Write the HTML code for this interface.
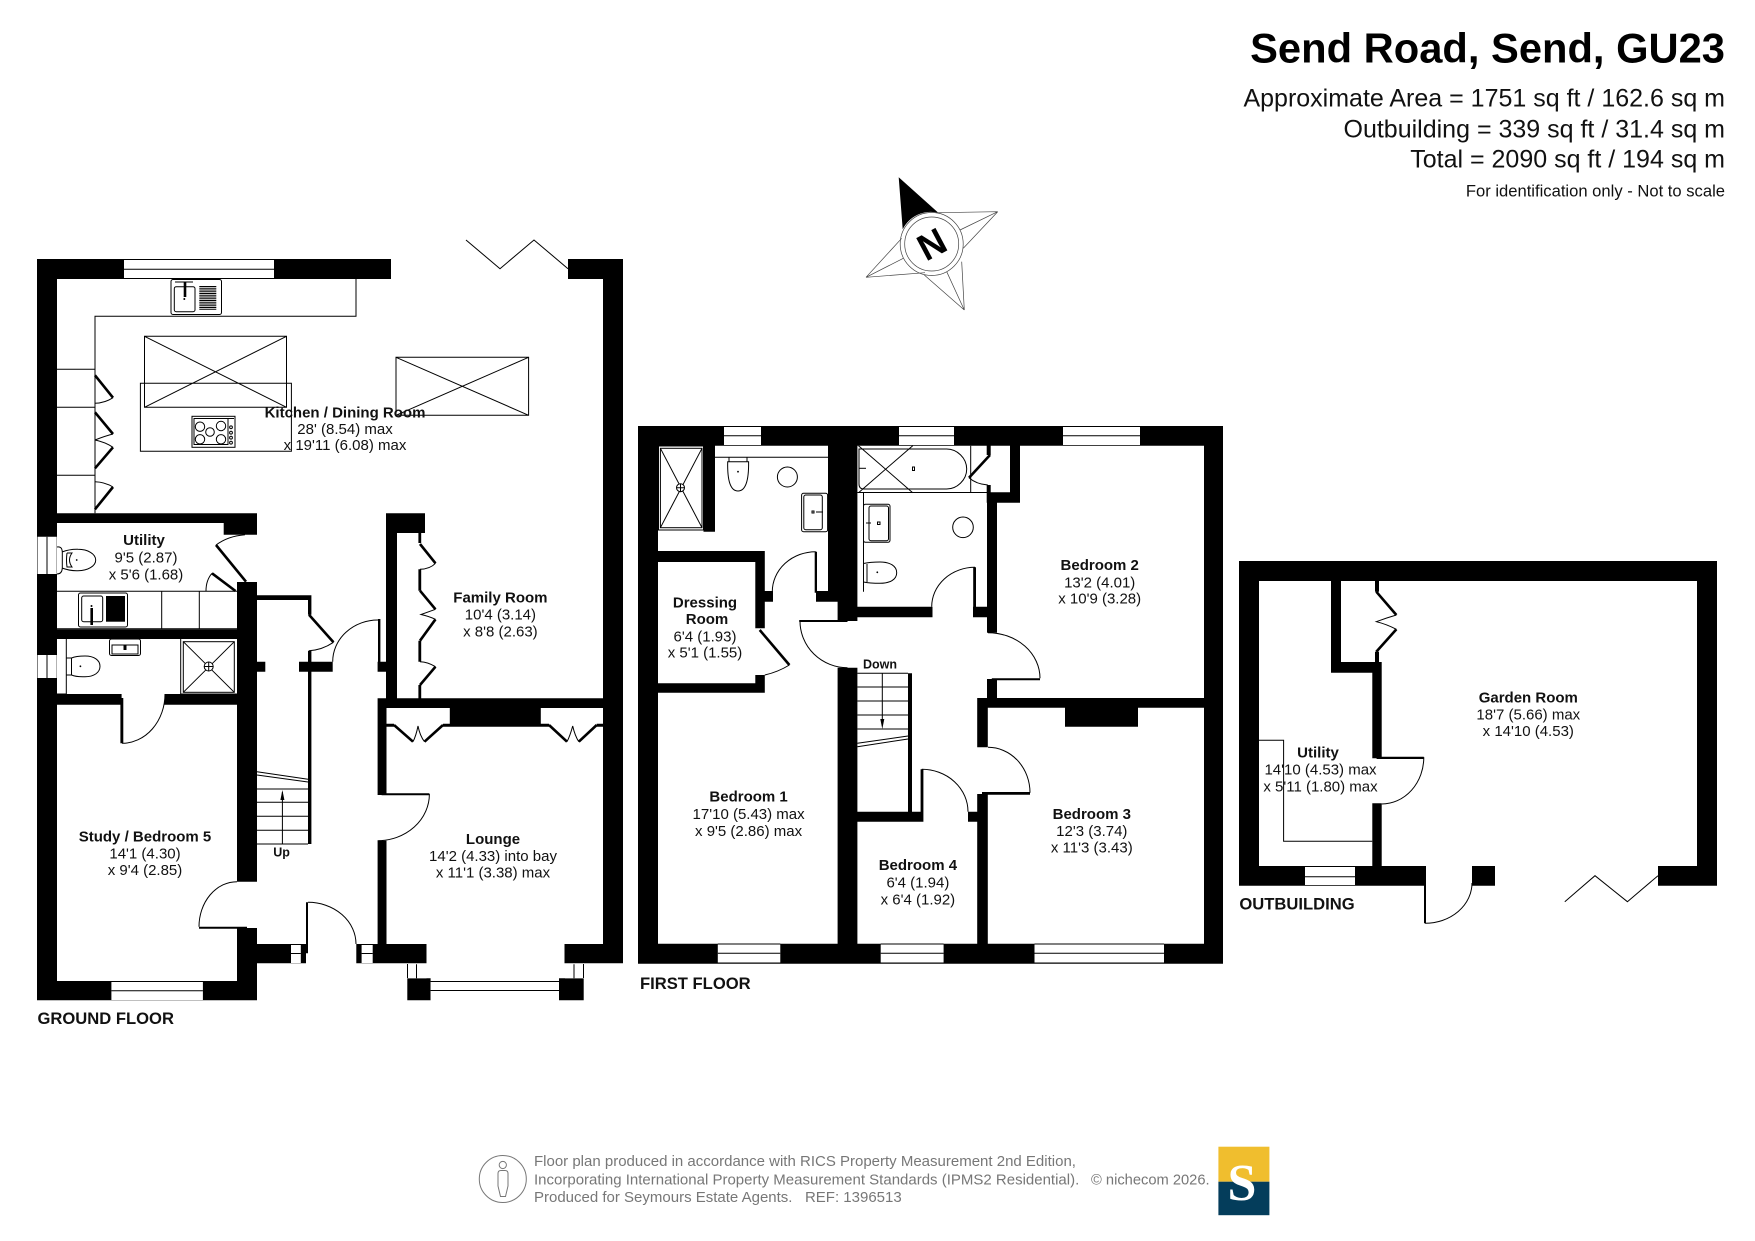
<!DOCTYPE html>
<html><head><meta charset="utf-8"><title>Send Road, Send, GU23</title>
<style>html,body{margin:0;padding:0;background:#fff}svg{display:block}text{font-family:"Liberation Sans",sans-serif;fill:#111;white-space:pre}.b{font-weight:700;font-size:15px;text-anchor:middle}.r{font-size:15px;text-anchor:middle}.f{font-weight:700;font-size:16.6px}.g{font-size:15px;fill:#777}.t{stroke:#000;stroke-width:1;fill:none}.h{stroke:#000;stroke-width:2.6;fill:none}.w{fill:#fff;stroke:#000;stroke-width:1}.p{fill:#fff;stroke:none}</style></head>
<body>
<svg width="1755" height="1241" viewBox="0 0 1755 1241" xmlns="http://www.w3.org/2000/svg">
<rect width="1755" height="1241" fill="#fff"/>
<!-- header -->
<text x="1725" y="62.3" style="font-weight:700;font-size:41.7px;text-anchor:end;fill:#000">Send Road, Send, GU23</text>
<g style="font-size:25px;text-anchor:end"><text x="1725" y="106.7">Approximate Area = 1751 sq ft / 162.6 sq m</text><text x="1725" y="137.3">Outbuilding = 339 sq ft / 31.4 sq m</text><text x="1725" y="167.7">Total = 2090 sq ft / 194 sq m</text></g>
<text x="1725" y="196.7" style="font-size:16.6px;text-anchor:end">For identification only - Not to scale</text>
<!-- compass -->
<g stroke="#444" stroke-width=".7" fill="none"><path d="M997.7 211.7L938 212.7M997.7 211.7L960 230M997.7 211.7L963.3 248.3M964.3 310L961.7 261.7M964.3 310L946.7 271.7M964.3 310L924.3 275M866 277.3L901.7 238.3M866 277.3L903.3 258.3M866 277.3L925 272.7"/><circle cx="931.7" cy="244" r="31.5"/><circle cx="931.7" cy="244" r="27"/></g>
<path d="M898.7 177.3L938.3 212.7A31.5 31.5 0 0 0 902.7 229.3Z" fill="#000"/>
<text x="0" y="0" transform="translate(931.7 244) rotate(-28)" dy="13" style="font-weight:700;font-size:37px;text-anchor:middle;fill:#000">N</text>
<!-- walls -->
<g fill="#000">
<path d="M37 259H391V279H37ZM568 259H623V279H568ZM37 259H57V1000.3H37ZM603 259H623V963.3H603ZM37 513.3H224V523H37ZM223.7 513.3H257V534.7H223.7ZM237 582H257V881.7H237ZM57 629.3H237V639H57ZM57 694H121.6V704.7H57ZM164.5 694H237V704.7H164.5ZM120.4 698H123.3V743.3H120.4ZM257 595.3H311.4V600H257ZM308 595.3H311.4V614.7H308ZM308 650.7H311.4V844H308ZM257 661.7H265.3V671.7H257ZM299 661.7H332.7V671.7H299ZM37 981H257V1000.3H37ZM199 926.7H247V928.7H199ZM237 928H257V1000.3H237ZM257 944H306V963.3H257ZM306 902.3H308V953.3H306ZM356.3 944H426.5V963.3H356.3ZM564.5 944H623V963.3H564.5ZM377.6 698.3H386.5V795H377.6ZM377.6 840.7H386.5V944H377.6ZM381.6 793.3H429.4V795.3H381.6ZM378 619H380.4V661.7H378ZM377.6 661.7H386V671.7H377.6ZM386 513.3H397V698.3H386ZM386 513.3H425V533H386ZM377.6 698.3H623V708H377.6ZM449.8 708H540.8V726.7H449.8ZM386.5 723.7H394V726.7H386.5ZM443 723.7H450V726.7H443ZM540.8 723.7H549V726.7H540.8ZM596.7 723.7H603V726.7H596.7ZM418.4 533H421.2V543H418.4ZM418.4 569.3H421.2V590.7H418.4ZM418.4 640.7H421.2V661.7H418.4ZM418.4 685H421.2V698.3H418.4ZM407.3 978.3H430.6V1000.3H407.3ZM559 978.3H583.7V1000.3H559Z"/>
<path d="M638 426H1223V445.7H638ZM638 426H658V963.7H638ZM1204 426H1223V963.7H1204ZM638 943.7H1223V963.7H638ZM703.5 445.7H715V531.7H703.5ZM828 445.7H857.4V591.7H828ZM837.6 591H857.4V621H837.6ZM837.6 667.7H857.4V943.7H837.6ZM857.4 606.7H932.5V617.3H857.4ZM658 551H764.8V562H658ZM755.3 551H764.8V628.3H755.3ZM764.8 591H773V601.7H764.8ZM755.3 675H764.8V692.7H755.3ZM658 683.3H764.8V692.7H658ZM814.7 551.7H817V592.7H814.7ZM816 591H837.6V601.7H816ZM799.2 620H847.5V622H799.2ZM986.7 445.7H990.7V455H986.7ZM986.7 485H990.7V492.3H986.7ZM1010 445.7H1020V502.7H1010ZM986.7 492.3H1020V502.7H986.7ZM987 492.3H997V632.7H987ZM973.2 567.3H976V608H973.2ZM973 606.7H987V617.3H973ZM987 679H997V698.3H987ZM991.8 678.3H1040V680.3H991.8ZM977.2 698H1223V707.7H977.2ZM1065 707.7H1138V726.7H1065ZM977.2 698H987.8V747.3H977.2ZM982 792H1030V794.7H982ZM977.2 794H987.8V963.7H977.2ZM908 673.3H912V811.7H908ZM857 811.7H921.8V821.7H857ZM920.6 769.3H923.4V821.7H920.6ZM968 811.7H977.2V821.7H968Z"/>
<path d="M1239 561H1717V581H1239ZM1239 561H1259V885.7H1239ZM1697 561H1717V885.7H1697ZM1239 866H1426V885.7H1239ZM1472 866H1495V885.7H1472ZM1658 866H1717V885.7H1658ZM1331 581H1341V672.7H1331ZM1331 662H1381.7V672.7H1331ZM1372.3 662H1381.7V758.3H1372.3ZM1376.6 756.7H1423.8V759H1376.6ZM1372.3 803.3H1381.7V866H1372.3ZM1424 885H1426V923.3H1424ZM1375 581H1379V591.7H1375ZM1375 651.7H1379V662H1375Z"/>
</g>
<!-- windows: ground -->
<g><path class="p" d="M124 260h150v18h-150zM37.5 536.7h19.2v37.3h-19.2zM37.5 655h19.2v23h-19.2zM111.4 982h91.5v18h-91.5zM430.6 982h128.4v18h-128.4zM291 945h9.8v18h-9.8zM361.6 945h11.1v18h-11.1zM408 964.3h18.5v14h-18.5zM565 964.3h18.7v14h-18.7z"/>
<path class="t" d="M124 269.3h150M47 536.7v37.3M47 655v23M111.4 990.7h91.5M111.4 981.5h91.5M430.6 990.5h128.4M430.6 981.5h128.4M291 953.5h9.8M361.6 953.5h11.1M416.5 964.3v14M574 964.3v14M407.5 964v14M583.5 964v14"/>
<!-- windows: first -->
<path class="p" d="M724 427h37v18h-37zM899 427h55v18h-55zM1063 427h77v18h-77zM717.8 944.5h62.5v18h-62.5zM880.7 944.5h62.9v18h-62.9zM1034.5 944.5h129.5v18h-129.5zM1305 867h50v18h-50z"/>
<path class="t" d="M724 435.7h37M899 435.7h55M1063 435.7h77M717.8 953.3h62.5M880.7 953.3h62.9M1034.5 953.3h129.5M1305 876.7h50M717.8 944h62.5M880.7 944h62.9M1034.5 944h129.5"/></g>
<!-- ground fittings -->
<path class="t" d="M356 279V316.3H95V513.3M57 369.3H95M57 407.3H95M57 475.3H95M466 240L500 268.7L534 240L568 268.7"/>
<path class="t" d="M144.5 336.3H286.5V407.3H144.5ZM144.5 336.3L286.5 407.3M286.5 336.3L144.5 407.3M396 357.3H528.6V415.3H396ZM396 357.3L528.6 415.3M528.6 357.3L396 415.3M140.4 383.3H291.4V451.3H140.4Z"/>
<!-- sink & hob -->
<rect class="t" x="171" y="279.5" width="50.5" height="35" rx="2"/><rect class="t" x="174.3" y="286.7" width="20.7" height="25" rx="2"/>
<path class="h" d="M185 282V297" stroke-width="2"/><circle cx="184.3" cy="299" r="1"/>
<path class="t" d="M199.3 286.5h17M199.3 288.3h17M199.3 290h17M199.3 291.8h17M199.3 293.5h17M199.3 295.3h17M199.3 297h17M199.3 298.8h17M199.3 300.5h17M199.3 302.3h17M199.3 304h17M199.3 305.8h17M199.3 307.5h17M199.3 309.3h17M175 282h18"/>
<rect x="192" y="416.3" width="43" height="31" fill="#fff" stroke="#000"/><path class="t" d="M194 444.5H228V418.5H194ZM228 418.5h6"/>
<g class="t"><circle cx="200" cy="426.7" r="4.7"/><circle cx="221" cy="426" r="4.7"/><circle cx="210" cy="432" r="4.3"/><circle cx="200" cy="439.3" r="4.7"/><circle cx="221" cy="439.3" r="4.7"/><circle cx="231" cy="427.3" r="1.4"/><circle cx="231" cy="432.7" r="1.4"/><circle cx="231" cy="437.7" r="1.4"/><circle cx="231" cy="442.7" r="1.4"/></g>
<!-- kitchen cupboards -->
<path class="h" d="M95 375.3L113 397.7M95 412.3L113 434M113 447.3L95 468.3M113 487L95 509.3"/>
<path class="t" d="M95 403.3Q105 403 113 397.7M95 440Q105 436 113 434M95 440Q105 442 113 447.3M95 481.7Q105 482 113 487"/>
<!-- utility / wc -->
<path class="t" d="M57 591.3H237M57 628.7H237M161.7 591.3V628.7M199.3 591.3V628.7"/>
<rect class="t" x="78.5" y="593" width="49" height="34" rx="2"/><rect class="t" x="81.7" y="596" width="21" height="25.7" rx="2"/><rect x="106" y="596" width="19" height="25.7" fill="#000"/><path class="h" d="M91.7 608V625" stroke-width="2"/><circle cx="91.5" cy="606" r="1"/>
<path class="h" d="M216 545L246 581.7M212 573.3L235.5 591"/><path class="t" d="M216 545Q228 536 245 534.7M206 591Q206 580 212 573.3"/>
<path class="t" d="M57 547Q62 546 62.3 552V568Q62 574 57 574M62 552Q70 549 78 549.3C88 549.3 95.7 554 95.7 560S88 570.7 78 570.7Q70 571 62 568M67 553H72Q67 560 72 567H67Q66 560 67 553"/><circle cx="76.7" cy="560" r=".9"/>
<path class="t" d="M66.3 639V694M180.7 639V694M57 694H66M180.7 694H237"/>
<rect class="t" x="183.3" y="641.7" width="51" height="50.6"/><path class="t" d="M183.3 641.7L234.3 692.3M234.3 641.7L183.3 692.3"/><circle class="w" cx="208.7" cy="666.5" r="4.5"/><path class="t" d="M204.2 666.5h9M208.7 662v9"/>
<rect class="t" x="109.5" y="639" width="31" height="16.5" rx="2"/><path class="t" d="M112 645h26v9h-26z"/><rect x="123.5" y="645" width="3" height="5" fill="#000"/>
<path class="t" d="M71.5 658Q76 656 85 656C94 656 100 660 100 666.3S94 676.7 85 676.7Q76 677 71.5 675V658M66.3 658H71.5M66.3 675H71.5"/><circle cx="80.4" cy="666.3" r=".9"/>
<path class="h" d="M309 614.7L333.5 642.3"/><path class="t" d="M333.5 642.3Q322 650 309 650.7"/>
<!-- stairs ground -->
<path class="t" d="M257 771.7L308 779.3M257 775L308 782M257 789H308M257 802.3H308M257 816.3H308M257 830.3H308M257 844H308M282.4 844V792"/><path d="M282.4 790L280.4 800H284.4Z" fill="#000"/>
<!-- family bifold -->
<path class="h" d="M420 544L435.5 563.3M420 590.7L435.5 609.3M435.5 619.3L420 640.7M435.5 666.7L420 685"/>
<path class="t" d="M435.5 563.3Q430 569 420 569.3M435.5 609.3Q428 612 421 614.5Q428 616 435.5 619.3M435.5 666.7Q428 662 420 661.7"/>
<!-- lounge bifolds -->
<path class="h" d="M394 725L413 741.7M424.5 741.7L443 725M549 725L567 741.7M578.8 741.7L596.7 725"/>
<path class="t" d="M413 741.7Q416 736 418 726Q420 736 424.5 741.7M567 741.7Q570 736 572.7 726Q575 736 578.8 741.7"/>
<!-- door arcs -->
<path class="t" d="M122 743.3A43 49.3 0 0 0 165 694M237 881.7A38 45 0 0 0 199 926.7M308 902.3A48 41.7 0 0 1 356 944M429.4 794A51.8 46.7 0 0 1 377.6 840.7M378 620A45.3 41.7 0 0 0 332.7 661.7"/>
<!-- first floor fittings -->
<rect class="t" x="658.5" y="446" width="45" height="84"/><rect class="t" x="660.4" y="448.3" width="41.6" height="79.4"/><path class="t" d="M660.4 448.3L702 527.7M702 448.3L660.4 527.7M715 457.3H828"/><circle class="w" cx="680.5" cy="487.7" r="4"/><path class="t" d="M676.5 487.7h8M680.5 483.7v8"/>
<path class="t" d="M727.7 461.7H748.6Q749 491 738 491Q727 491 727.7 461.7ZM729 457.3V461.7M747 457.3V461.7"/><circle cx="738" cy="471.7" r=".9"/>
<circle class="t" cx="787.4" cy="477" r="10"/>
<rect class="t" x="801.6" y="493.3" width="26" height="38.4" rx="2"/><rect class="t" x="803.8" y="495" width="18.5" height="34.7" rx="2"/><rect class="t" x="812" y="511" width="2" height="2"/><path class="t" d="M816 512h7"/>
<path class="t" d="M857.4 492.5H987M970.7 445.7V492.5M863.5 492.5V591.7"/>
<path class="t" d="M859 449H946.7C957 449 966.7 458 966.7 469S957 489 946.7 489H864Q859 489 859 484Z"/>
<path class="t" d="M858.5 445.7L912.7 492.7M912.7 445.7L858.5 492.7"/><rect class="t" x="912.5" y="467" width="2" height="3.5"/><path class="t" d="M859 468.3h7"/>
<path class="h" d="M990 455L969 477.7"/><path class="t" d="M969 477.7Q976 484 987.8 485"/>
<rect class="t" x="863.5" y="504.3" width="26.5" height="38" rx="2"/><rect class="t" x="869" y="506" width="19.5" height="34.7" rx="2"/><path class="t" d="M866 523h5"/><rect class="t" x="877.5" y="522" width="2.5" height="2.5"/>
<circle class="t" cx="963" cy="527.3" r="10.3"/>
<path class="t" d="M863.5 563.5Q870 562 880 562C890 562 896.7 566 896.7 572.7S890 583.3 880 583.3Q870 583.3 863.5 582M867 564V582"/><circle cx="877.3" cy="572.3" r=".9"/>
<path class="t" d="M815.8 551.7A43.5 40 0 0 0 772.3 591.7M800 621A47.5 46.7 0 0 0 847.5 667.7M988 632.7A52 45.6 0 0 1 1040 678.3M975 567.3A43.3 39.4 0 0 0 931.7 606.7M988 747.3A42 45.4 0 0 1 1030 792.7M921.8 769.3A46.2 42.4 0 0 1 968 811.7"/>
<path class="h" d="M759.7 630L789.4 665"/><path class="t" d="M789.4 665Q778 672 764.8 675"/>
<!-- stairs first -->
<path class="t" d="M857.4 673.3H908M857.4 687H908M857.4 701H908M857.4 715H908M857.4 729H908M882.3 673.3V722M857.4 743.3L908 736M857.4 746.7L908 739"/><path d="M882.3 729L880.3 719H884.3Z" fill="#000"/>
<!-- outbuilding fittings -->
<path class="t" d="M1259 740.3H1283.6V841.3H1372.3M1564.8 901.7L1595 875.7L1627.4 901.7L1658 875.7M1423.8 757.3A42.1 46.7 0 0 1 1381.7 804M1425 923.3A47 40.3 0 0 0 1472 883"/>
<path class="h" d="M1376.3 591.7L1396.4 615M1396.4 629.3L1376.3 651.7"/><path class="t" d="M1396.4 615Q1386 618 1376.3 621.7Q1386 624 1396.4 629.3"/>
<!-- labels -->
<text class="b" x="345" y="417.3">Kitchen / Dining Room</text><text class="r" x="345" y="434">28' (8.54) max</text><text class="r" x="345" y="450">x 19'11 (6.08) max</text>
<text class="b" x="144" y="545">Utility</text><text class="r" x="146" y="562.3">9'5 (2.87)</text><text class="r" x="146" y="579.3">x 5'6 (1.68)</text>
<text class="b" x="500.4" y="602.3">Family Room</text><text class="r" x="500.4" y="619.3">10'4 (3.14)</text><text class="r" x="500.4" y="636.7">x 8'8 (2.63)</text>
<text class="b" x="145" y="841.7">Study / Bedroom 5</text><text class="r" x="145" y="858.3">14'1 (4.30)</text><text class="r" x="145" y="875">x 9'4 (2.85)</text>
<text class="b" x="493" y="844">Lounge</text><text class="r" x="493" y="861">14'2 (4.33) into bay</text><text class="r" x="493" y="877.3">x 11'1 (3.38) max</text>
<text x="281.6" y="856.5" style="font-weight:700;font-size:12.5px;text-anchor:middle">Up</text>
<text class="f" x="37.5" y="1024">GROUND FLOOR</text>
<text class="b" x="705" y="607.3">Dressing</text><text class="b" x="707" y="624">Room</text><text class="r" x="705" y="641.7">6'4 (1.93)</text><text class="r" x="705" y="657.3">x 5'1 (1.55)</text>
<text class="b" x="1099.7" y="570">Bedroom 2</text><text class="r" x="1099.7" y="587.3">13'2 (4.01)</text><text class="r" x="1099.7" y="603.3">x 10'9 (3.28)</text>
<text class="b" x="748.6" y="801.7">Bedroom 1</text><text class="r" x="748.6" y="819">17'10 (5.43) max</text><text class="r" x="748.6" y="836">x 9'5 (2.86) max</text>
<text class="b" x="917.9" y="870">Bedroom 4</text><text class="r" x="917.9" y="887.3">6'4 (1.94)</text><text class="r" x="917.9" y="904.3">x 6'4 (1.92)</text>
<text class="b" x="1091.8" y="819">Bedroom 3</text><text class="r" x="1091.8" y="836">12'3 (3.74)</text><text class="r" x="1091.8" y="852.3">x 11'3 (3.43)</text>
<text x="880" y="668.3" style="font-weight:700;font-size:12.5px;text-anchor:middle">Down</text>
<text class="f" x="640" y="989">FIRST FLOOR</text>
<text class="b" x="1528.3" y="702.3">Garden Room</text><text class="r" x="1528.3" y="719.3">18'7 (5.66) max</text><text class="r" x="1528.3" y="736">x 14'10 (4.53)</text>
<text class="b" x="1318" y="757.3">Utility</text><text class="r" x="1320.5" y="774.3">14'10 (4.53) max</text><text class="r" x="1320.5" y="791.7">x 5'11 (1.80) max</text>
<text class="f" x="1239.4" y="909.3">OUTBUILDING</text>
<!-- footer -->
<circle cx="502.8" cy="1179" r="23.5" fill="none" stroke="#777" stroke-width="1"/><circle cx="502.8" cy="1165" r="3.6" fill="none" stroke="#777"/><path d="M498 1173.5Q498 1170.5 501 1170.5H505Q508 1170.5 508 1173.5V1186L505.5 1196.5H500.5L498 1186Z" fill="none" stroke="#777"/>
<text class="g" x="534" y="1166">Floor plan produced in accordance with RICS Property Measurement 2nd Edition,</text>
<text class="g" x="534" y="1184.3">Incorporating International Property Measurement Standards (IPMS2 Residential).</text>
<text class="g" x="534" y="1202">Produced for Seymours Estate Agents.   REF: 1396513</text>
<text class="g" x="1091" y="1184.3" style="font-size:14.7px">© nichecom 2026.</text>
<rect x="1218.4" y="1146.7" width="51" height="35" fill="#F0BE2E"/><rect x="1218.4" y="1181.7" width="51" height="33.5" fill="#043D5B"/>
<text x="1242" y="1200" style="font-family:'Liberation Serif',serif;font-size:52px;font-weight:700;text-anchor:middle;fill:#fff">S</text>
</svg>
</body></html>
